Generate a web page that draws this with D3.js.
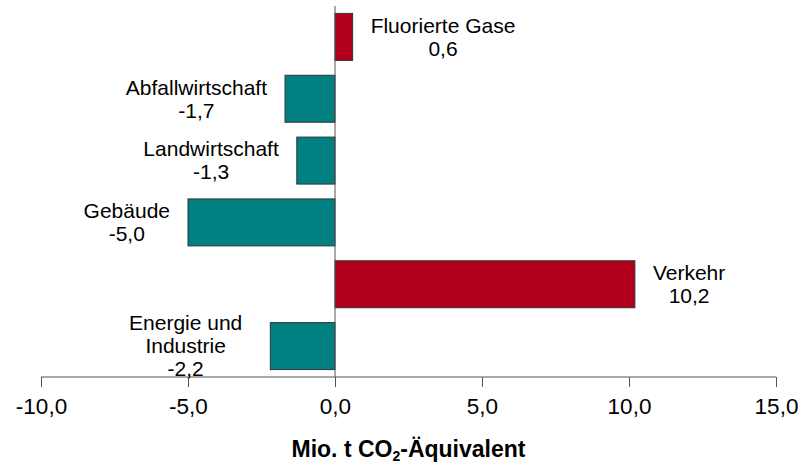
<!DOCTYPE html>
<html>
  <head>
    <meta charset="utf-8">
    <title>Emissionsänderung nach Sektoren</title>
    <script src="https://cdn.jsdelivr.net/npm/d3@7"></script>
    <style>
      body { margin: 0; background: #fff; font-family: "Liberation Sans", Arial, sans-serif; }
      #chart { display: block; }
      .axis path, .axis line { stroke: #555; }
      .axis text { font-size: 22.5px; fill: #000; font-family: "Liberation Sans", Arial, sans-serif; }
      .label { font-size: 21px; fill: #000; }
      .title { font-size: 23px; font-weight: bold; fill: #000; }
      .bar { stroke: #333; stroke-width: 1; }
    </style>
  </head>

  <body>
    <svg id="chart" width="802" height="465">
      <g id="barGroup"></g>
      <g id="zeroLine"><line></line></g>
      <g id="xAxisGroup" class="axis"></g>
      <g id="labelGroup"></g>
      <text class="title" id="xTitle"></text>
    </svg>

    <script>
      // data
      sectors = ["Fluorierte Gase", "Abfallwirtschaft", "Landwirtschaft", "Gebäude", "Verkehr", "Energie und Industrie"];
      sectorLines = [["Fluorierte Gase"], ["Abfallwirtschaft"], ["Landwirtschaft"], ["Gebäude"], ["Verkehr"], ["Energie und", "Industrie"]];
      changes = [0.6, -1.7, -1.3, -5.0, 10.2, -2.2];
      xTicks = [-10, -5, 0, 5, 10, 15];

      chart = d3.select("#chart");
      width = 802;
      height = 465;
      margin = { top: 6, right: 26, bottom: 88, left: 41 };

      de = d3.formatLocale({ decimal: ",", thousands: ".", grouping: [3], currency: ["", " €"], minus: "-" });
      fmt = de.format(".1f");

      x = d3.scaleLinear()
        .domain([d3.min(xTicks), d3.max(xTicks)])
        .range([margin.left, width - margin.right]);

      y = d3.scaleBand()
        .domain(sectors)
        .range([margin.top, height - margin.bottom])
        .paddingInner(.24)
        .paddingOuter(.12);

      data = sectors.map((s, i) => ({ key: s, lines: sectorLines[i], value: changes[i] }));

      // bars
      d3.select("#barGroup")
        .selectAll(".bar")
          .data(data)
        .enter().append("rect")
          .classed("bar", true)
          .attr("x", d => x(Math.min(0, d.value)))
          .attr("y", d => y(d.key))
          .attr("width", d => Math.abs(x(d.value) - x(0)))
          .attr("height", y.bandwidth())
          .attr("fill", d => d.value < 0 ? "#008080" : "#b0001e");

      // zero line
      d3.select("#zeroLine line")
        .attr("x1", x(0))
        .attr("x2", x(0))
        .attr("y1", margin.top)
        .attr("y2", height - margin.bottom)
        .attr("stroke", "#555");

      // x axis
      xAxis = d3.axisBottom(x)
        .tickValues(xTicks)
        .tickFormat(fmt)
        .tickSize(10)
        .tickPadding(11)
        .tickSizeOuter(10);

      d3.select("#xAxisGroup")
        .attr("transform", "translate(0, " + (height - margin.bottom) + ")")
        .call(xAxis)
        .call(g => g.select(".domain").attr("d", "M" + x.range()[0] + ",0H" + x.range()[1]));

      // labels
      lineHeight = 23;
      gap = 18;
      labels = d3.select("#labelGroup")
        .selectAll(".labelBlock")
          .data(data)
        .enter().append("g")
          .classed("labelBlock", true);

      labels.each(function(d) {
        let g = d3.select(this);
        let rows = d.lines.concat([fmt(d.value)]);
        let cy = y(d.key) + y.bandwidth() / 2;
        let top = cy - (rows.length - 1) * lineHeight / 2;
        let texts = g.selectAll("text")
          .data(rows)
          .enter().append("text")
            .classed("label", true)
            .attr("text-anchor", "middle")
            .attr("dy", "0.35em")
            .attr("y", (r, i) => top + i * lineHeight)
            .text(r => r);
        let w = d3.max(texts.nodes(), n => n.getComputedTextLength());
        // multi-line blocks sit a little further out
        let offset = gap + (rows.length > 2 ? 10 : 0) + w / 2;
        let cx = d.value < 0 ? x(d.value) - offset : x(d.value) + offset;
        texts.attr("x", cx);
      });

      // axis title
      title = d3.select("#xTitle")
        .attr("x", (x.range()[0] + x.range()[1]) / 2)
        .attr("y", 457)
        .attr("text-anchor", "middle");
      title.append("tspan").text("Mio. t CO");
      title.append("tspan").attr("font-size", "14px").attr("dy", "4").text("2");
      title.append("tspan").attr("dy", "-4").text("-Äquivalent");
    </script>
  </body>
</html>
